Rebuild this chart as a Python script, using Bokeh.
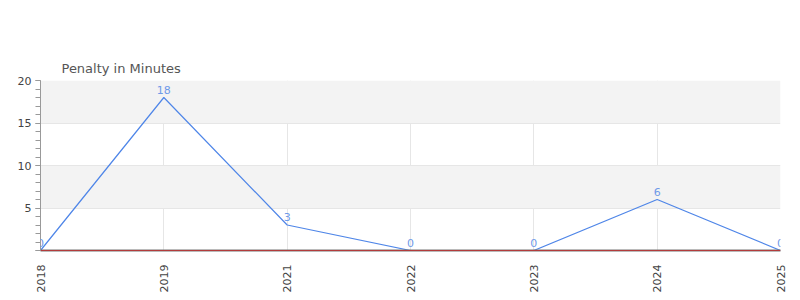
from bokeh.plotting import figure
from bokeh.models import ColumnDataSource, FixedTicker, LabelSet, Span
from bokeh.core.properties import value
from bokeh.embed import file_html
from bokeh.resources import INLINE
import math

years = ["2018", "2019", "2021", "2022", "2023", "2024", "2025"]
penalty = [0, 18, 3, 0, 0, 6, 0]
y_ticks = [0, 5, 10, 15, 20]
y_minor = list(range(0, 21))

idx = list(range(len(years)))
src = ColumnDataSource(dict(x=idx, y=penalty, lab=[str(v) for v in penalty]))

p = figure(width=800, height=300, output_backend="svg", toolbar_location=None,
           x_range=(0, len(years) - 1), y_range=(0, 20),
           min_border_left=40, min_border_right=20, min_border_top=80, min_border_bottom=50)
p.outline_line_color = None
p.background_fill_color = "white"

p.title.text = "Penalty in Minutes"
p.title.text_font = "DejaVu Sans"
p.title.text_font_size = "13px"
p.title.text_font_style = "normal"
p.title.text_color = "#555555"
p.title.offset = 21

p.xaxis.ticker = FixedTicker(ticks=idx)
p.xaxis.major_label_overrides = {i: y for i, y in enumerate(years)}
p.xaxis.major_label_orientation = math.pi / 2
p.xaxis.major_tick_line_color = None
p.xaxis.minor_tick_line_color = None
p.xaxis.axis_line_color = "#777777"
p.xaxis.axis_line_width = 2
p.xaxis.major_label_text_font = "DejaVu Sans"
p.xaxis.major_label_text_font_size = "11px"
p.xaxis.major_label_text_color = "#444444"
p.xaxis.major_label_standoff = 8

p.yaxis.ticker = FixedTicker(ticks=y_ticks, minor_ticks=y_minor)
p.yaxis.major_label_overrides = {0: ""}
p.yaxis.axis_line_color = "#999999"
p.yaxis.major_tick_line_color = "#999999"
p.yaxis.minor_tick_line_color = "#999999"
p.yaxis.major_tick_in = 0
p.yaxis.major_tick_out = 5
p.yaxis.minor_tick_in = 0
p.yaxis.minor_tick_out = 5
p.yaxis.major_label_text_font = "DejaVu Sans"
p.yaxis.major_label_text_font_size = "11px"
p.yaxis.major_label_text_color = "#444444"
p.yaxis.major_label_standoff = 4

p.xgrid.grid_line_color = "#e6e6e6"
p.ygrid.grid_line_color = "#e6e6e6"
p.ygrid.band_fill_color = "#f3f3f3"
p.ygrid.band_fill_alpha = 1.0

p.line("x", "y", source=src, line_color="#4f86e8", line_width=1.2)
p.add_layout(Span(location=0, dimension="width", line_color="#ee0000", line_width=1))

labels = LabelSet(x="x", y="y", text="lab", source=src, y_offset=4,
                  text_align="center", text_baseline="bottom",
                  text_font_size=value("11px"), text_color="#6f9ae8",
                  text_font=value("DejaVu Sans"))
p.add_layout(labels)

open("out.html", "w").write(file_html(p, INLINE))
